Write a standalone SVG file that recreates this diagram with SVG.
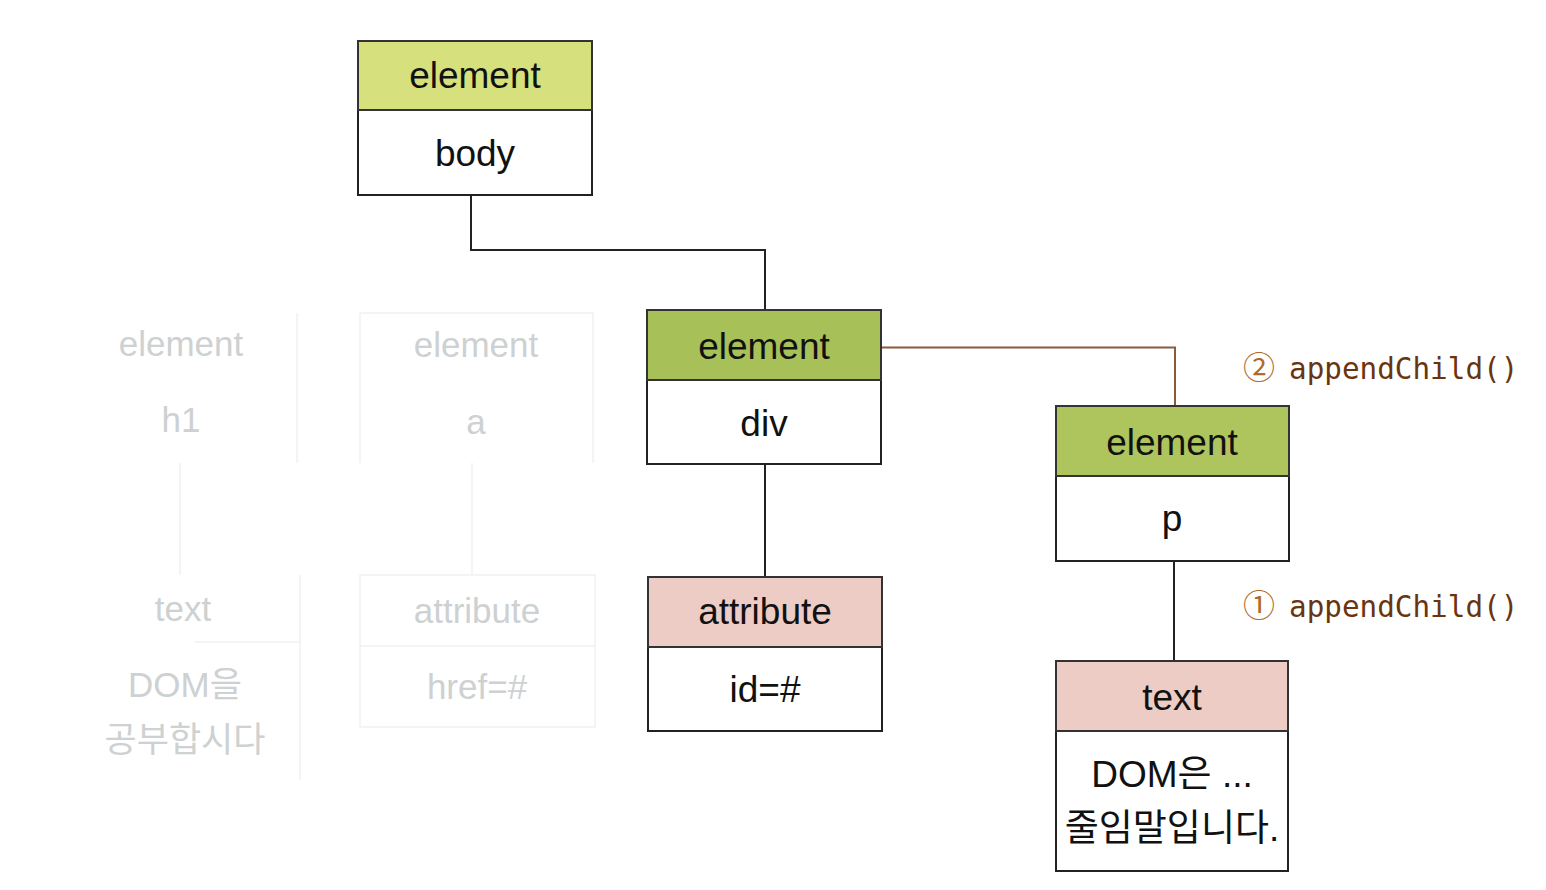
<svg xmlns="http://www.w3.org/2000/svg" width="1546" height="890" viewBox="0 0 1546 890">
<style>
.box{fill:#fff;stroke:#222;stroke-width:2}
.hdr{stroke:#333;stroke-width:2}
.t{font-family:"Liberation Sans",Arial,"Noto Sans CJK KR",sans-serif;font-size:37px;fill:#111;text-anchor:middle}
.f{font-family:"Liberation Sans",Arial,"Noto Sans CJK KR",sans-serif;font-size:35px;fill:#cdd1d1;text-anchor:middle}
.fb{fill:none;stroke:#f0f1f1;stroke-width:1.5}
.ln{fill:none;stroke:#222;stroke-width:2}
.lb{font-family:"DejaVu Sans Mono","Liberation Mono",monospace;font-size:29.3px;fill:#6b3410}
.num{font-family:"Noto Sans CJK KR","DejaVu Sans",sans-serif;font-size:32px;fill:#b06a2a}
</style>
<rect width="1546" height="890" fill="#fff"/>
<g id="faded">
<g id="node-h1">
<path class="fb" d="M297 313 V463 M180 463 V575"/>
<text class="f" x="181" y="356">element</text>
<text class="f" x="181" y="432">h1</text>
</g>
<g id="node-a">
<path class="fb" d="M360 313 H593 V463 M360 313 V463 M472 463 V575"/>
<text class="f" x="476" y="357">element</text>
<text class="f" x="476" y="434">a</text>
</g>
<g id="node-text-faded">
<path class="fb" d="M300 575 V780 M195 642 H300"/>
<text class="f" x="183" y="621">text</text>
<text class="f" x="185" y="697">DOM을</text>
<text class="f" x="185" y="752">공부합시다</text>
</g>
<g id="node-href">
<path class="fb" d="M360 575 H595 V727 H360 Z M360 646 H595"/>
<text class="f" x="477" y="623">attribute</text>
<text class="f" x="477" y="699">href=#</text>
</g>
</g>
<g id="connectors">
<path class="ln" d="M471 195 V250 H765 V310"/>
<path class="ln" d="M765 464 V576"/>
<path class="ln" d="M1174 561 V660"/>
<path fill="none" stroke="#8a5a3a" stroke-width="2" d="M881 347.5 H1175 V406"/>
</g>
<g id="node-body">
<rect class="box" x="358" y="41" width="234" height="154"/>
<rect class="hdr" x="358" y="41" width="234" height="69" fill="#d6e07c"/>
<text class="t" x="475" y="88">element</text>
<text class="t" x="475" y="166">body</text>
</g>
<g id="node-div">
<rect class="box" x="647" y="310" width="234" height="154"/>
<rect class="hdr" x="647" y="310" width="234" height="70" fill="#a8c058"/>
<text class="t" x="764" y="359">element</text>
<text class="t" x="764" y="436">div</text>
</g>
<g id="node-p">
<rect class="box" x="1056" y="406" width="233" height="155"/>
<rect class="hdr" x="1056" y="406" width="233" height="70" fill="#aec55e"/>
<text class="t" x="1172" y="455">element</text>
<text class="t" x="1172" y="531">p</text>
</g>
<g id="node-attribute">
<rect class="box" x="648" y="577" width="234" height="154"/>
<rect class="hdr" x="648" y="577" width="234" height="70" fill="#ecccc4"/>
<text class="t" x="765" y="624">attribute</text>
<text class="t" x="765" y="702">id=#</text>
</g>
<g id="node-text">
<rect class="box" x="1056" y="661" width="232" height="210"/>
<rect class="hdr" x="1056" y="661" width="232" height="70" fill="#ecccc4"/>
<text class="t" x="1172" y="710">text</text>
<text class="t" x="1172" y="787">DOM은 ...</text>
<text class="t" x="1172" y="841">줄임말입니다.</text>
</g>
<g id="labels">
<text x="1243" y="379"><tspan class="num">②</tspan><tspan class="lb" x="1289">appendChild()</tspan></text>
<text x="1243" y="617"><tspan class="num">①</tspan><tspan class="lb" x="1289">appendChild()</tspan></text>
</g>
</svg>
